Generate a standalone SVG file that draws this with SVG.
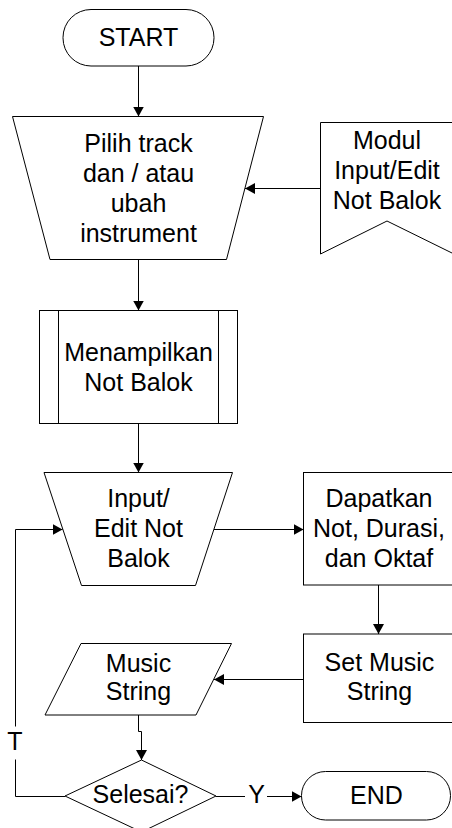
<svg xmlns="http://www.w3.org/2000/svg" width="452" height="828" viewBox="0 0 452 828">
<style>
.s{fill:#fff;stroke:#000;stroke-width:1}
.c{fill:none;stroke:#000;stroke-width:1}
text{font-family:"Liberation Sans",Arial,sans-serif;font-size:25px;fill:#000;text-anchor:middle}
</style>
<defs>
<marker id="ah" markerUnits="userSpaceOnUse" markerWidth="11" markerHeight="11" refX="10" refY="5.5" orient="auto">
<path d="M0,0 L10,5.5 L0,11 z" fill="#000"/>
</marker>
</defs>
<g id="start">
<rect class="s" x="63" y="9.5" width="151" height="56.5" rx="28" ry="28"/>
<text x="138.5" y="45.5">START</text>
</g>
<g id="pilih">
<polygon class="s" points="12.5,116.5 263.5,116.5 226.5,259.5 50,259.5"/>
<text x="138.5" y="151.5">Pilih track</text>
<text x="138.5" y="181.5">dan / atau</text>
<text x="138.5" y="211.5">ubah</text>
<text x="138.5" y="241.5">instrument</text>
</g>
<g id="modul">
<polygon class="s" points="320.5,122.5 454,122.5 454,254 387,221 320.5,254"/>
<text x="387" y="148.5">Modul</text>
<text x="387" y="178.5">Input/Edit</text>
<text x="387" y="208.5">Not Balok</text>
</g>
<g id="menampilkan">
<rect class="s" x="39.5" y="310.5" width="198" height="113"/>
<line class="c" x1="58.5" y1="310.5" x2="58.5" y2="423.5"/>
<line class="c" x1="218.5" y1="310.5" x2="218.5" y2="423.5"/>
<text x="138.5" y="361">Menampilkan</text>
<text x="138.5" y="391">Not Balok</text>
</g>
<g id="input">
<polygon class="s" points="44,472.5 232.5,472.5 195.5,585.5 81.5,585.5"/>
<text x="138.5" y="506.5">Input/</text>
<text x="138.5" y="536.5">Edit Not</text>
<text x="138.5" y="566.5">Balok</text>
</g>
<g id="dapatkan">
<rect class="s" x="303.5" y="472.5" width="152" height="112.5"/>
<text x="379" y="506.5">Dapatkan</text>
<text x="379" y="536.5">Not, Durasi,</text>
<text x="379" y="566.5">dan Oktaf</text>
</g>
<g id="setmusic">
<rect class="s" x="303.5" y="634" width="152" height="88.5"/>
<text x="379.5" y="671">Set Music</text>
<text x="379.5" y="700">String</text>
</g>
<g id="musicstring">
<polygon class="s" points="81,643.5 231.5,643.5 196,715 45,715"/>
<text x="138.5" y="671.5">Music</text>
<text x="138.5" y="700">String</text>
</g>
<g id="selesai">
<polygon class="s" points="141.5,760 216,796 141.5,832 65,796"/>
<text x="140.5" y="803">Selesai?</text>
</g>
<g id="end">
<rect class="s" x="301.5" y="771.5" width="149" height="48.5" rx="24" ry="24"/>
<text x="376.5" y="803.5">END</text>
</g>
<g id="connectors">
<line class="c" x1="138.5" y1="66" x2="138.5" y2="116.5" marker-end="url(#ah)"/>
<line class="c" x1="320.5" y1="188.5" x2="245" y2="188.5" marker-end="url(#ah)"/>
<line class="c" x1="138.5" y1="259.5" x2="138.5" y2="310.5" marker-end="url(#ah)"/>
<line class="c" x1="138.5" y1="423.5" x2="138.5" y2="472.5" marker-end="url(#ah)"/>
<line class="c" x1="214" y1="529.5" x2="303.5" y2="529.5" marker-end="url(#ah)"/>
<line class="c" x1="378.5" y1="585" x2="378.5" y2="634" marker-end="url(#ah)"/>
<line class="c" x1="303.5" y1="679.5" x2="214" y2="679.5" marker-end="url(#ah)"/>
<polyline class="c" points="138.5,715 138.5,731.5 141.5,731.5 141.5,760" marker-end="url(#ah)"/>
<polyline class="c" points="65,796.5 15.5,796.5 15.5,759.5"/>
<polyline class="c" points="15.5,726.5 15.5,529.5 62.5,529.5" marker-end="url(#ah)"/>
<text x="15" y="750">T</text>
<line class="c" x1="216" y1="796.5" x2="245" y2="796.5"/>
<text x="256.5" y="803">Y</text>
<line class="c" x1="267" y1="796.5" x2="301.5" y2="796.5" marker-end="url(#ah)"/>
</g>
</svg>
